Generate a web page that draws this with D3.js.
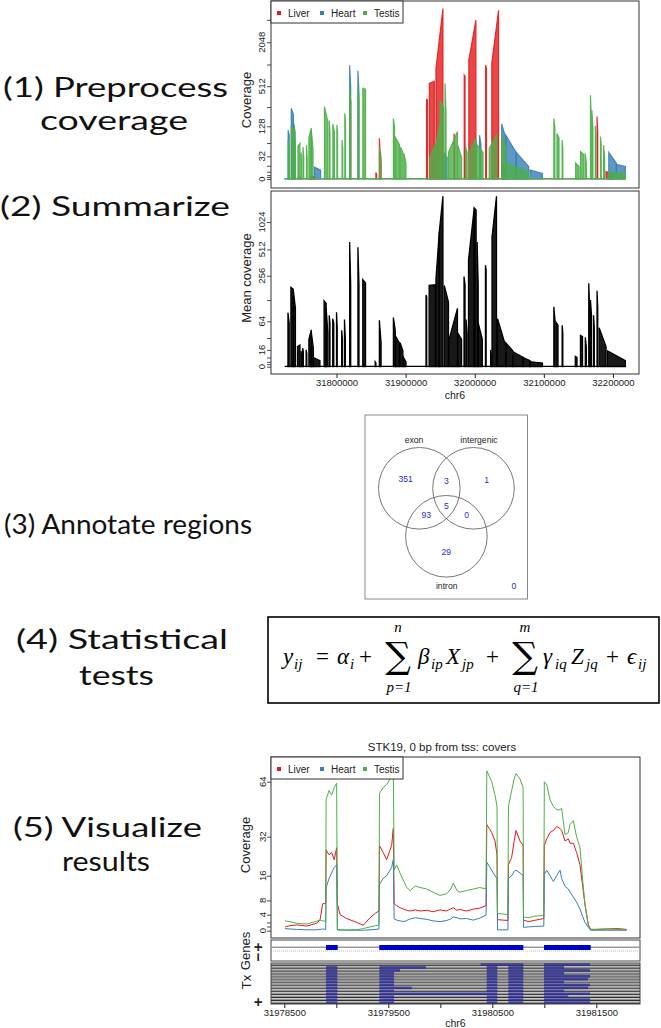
<!DOCTYPE html>
<html><head><meta charset="utf-8">
<script src="https://cdn.jsdelivr.net/npm/d3@7/dist/d3.min.js"></script>
<style>body{margin:0;background:#fff}svg{display:block;font-family:"Liberation Sans",Arial,sans-serif}</style>
</head><body>
<svg id="c" width="661" height="1028"></svg>
<script>
// ---------------- DATA ----------------
const seriesNames = ["Liver", "Heart", "Testis"];
const seriesColors = ["#E41A1C", "#377EB8", "#4DAF4A"];
const regionKb = [31724.9, 32218.0];

// coverage spikes: [startKb, endKb, valueAtStart, valueAtEnd]
const liverSpikes = [
 [31745,31747,2,2],[31762,31768,3,2],[31819.0,31820.5,500,300],[31857.0,31858.0,7,5],
 [31862.0,31863.0,79,40],[31863.5,31864.5,42,20],[31930.3,31931.5,340,320],[31934.3,31941.5,560,600],
 [31943.9,31954.0,900,5800],[31970.0,31971.0,96,60],[31984.8,31986.0,730,700],[31991.5,32001.7,1180,4060],
 [32015.8,32017.0,1000,900],[32024.7,32034.5,1070,5500],[32039.0,32044.0,20,10],[32177.0,32178.0,183,100],
 [32190.0,32200.0,8,5]
];
const heartSpikes = [
 [31730.0,31731.5,110,90],[31734.5,31737.5,244,200],[31737.5,31740.0,150,100],[31768.0,31777.0,14,10],
 [31819.0,31820.5,1000,500],[31831.0,31832.5,840,400],[31955.0,31960.0,40,30],[32007.0,32009.0,90,60],
 [32039.0,32045.0,140,80],[32045.0,32060.0,90,40],[32060.0,32078.0,40,15],[32080.0,32098.0,10,6],
 [32194.0,32205.0,40,20],[32205.0,32218.0,18,15]
];
const testisSpikes = [
 [31730.0,31731.5,73,50],[31734.5,31738.0,126,110],[31739.0,31740.5,135,60],[31744.2,31747.0,55,63],
 [31748.5,31749.5,40,30],[31751.5,31752.5,53,30],[31756.5,31757.5,58,30],[31760.0,31763.5,80,120],
 [31763.5,31766.0,110,50],[31782.5,31787.5,260,150],[31789.5,31790.5,160,100],[31794.7,31797.0,140,100],
 [31800.5,31801.5,135,100],[31808.0,31809.0,73,50],[31812.0,31813.0,206,150],[31819.0,31820.5,510,300],
 [31831.0,31832.5,510,300],[31838.0,31842.0,480,460],[31862.0,31864.0,53,30],[31882.3,31884.0,170,120],
 [31885.5,31891.0,80,60],[31892.5,31896.0,53,40],[31897.5,31900.5,38,20],[31935.0,31943.0,30,60],
 [31944.0,31950.0,60,150],[31950.0,31955.0,320,250],[31957.0,31958.5,560,200],[31962.0,31975.0,40,105],
 [31975.0,31981.0,60,30],[31987.0,31989.0,53,40],[31992.0,32002.0,40,80],[32003.0,32012.0,60,40],
 [32021.0,32032.0,50,90],[32039.0,32045.0,97,50],[32045.0,32078.0,20,8],[32114.5,32116.0,170,120],
 [32119.0,32122.0,96,80],[32126.5,32127.5,73,50],[32146.0,32151.0,20,15],[32153.0,32158.0,42,35],
 [32160.0,32161.5,38,20],[32167.5,32168.5,380,200],[32169.5,32171.0,230,120],[32174.5,32175.5,130,80],
 [32182.0,32183.0,85,60],[32186.5,32188.0,58,30],[32194.0,32218.0,8,6]
];
const meanSpikes = [
 [31729.7,31731.5,86,60],[31734.0,31737.5,185,175],[31737.5,31740.5,170,100],[31743.5,31747.0,20,22],
 [31748.5,31749.5,15,10],[31751.0,31752.0,18,14],[31756.0,31757.0,16,12],[31760.0,31763.5,30,46],
 [31763.5,31766.5,42,18],[31766.5,31776.0,8,5],[31782.0,31785.0,125,115],[31785.0,31787.5,100,40],
 [31789.5,31790.5,79,60],[31794.5,31796.0,70,60],[31800.0,31801.0,87,50],[31807.5,31808.5,45,30],
 [31811.5,31812.8,68,30],[31819.0,31820.5,620,200],[31831.0,31832.5,540,200],[31838.0,31842.0,230,210],
 [31856.0,31857.0,4,3],[31862.0,31864.5,66,25],[31882.3,31885.0,73,45],[31885.5,31891.0,35,25],
 [31892.0,31896.0,25,15],[31897.0,31900.5,8,4],[31929.5,31930.5,149,140],[31934.0,31943.0,196,200],
 [31943.9,31948.7,236,800],[31948.7,31954.0,800,1930],[31955.9,31962.0,196,120],[31963.0,31975.0,30,99],
 [31975.5,31981.0,40,30],[31984.5,31986.0,250,200],[31987.5,31989.0,68,40],[31991.0,31999.3,390,1450],
 [31999.3,32002.0,1450,1380],[32003.5,32005.0,620,200],[32005.0,32011.0,60,30],[32015.5,32016.5,340,300],
 [32023.0,32024.0,16,10],[32025.0,32031.5,700,1930],[32033.0,32045.0,70,20],[32045.0,32055.0,25,15],
 [32055.0,32070.0,14,8],[32070.0,32080.0,8,5],[32080.0,32098.0,4,3],[32114.5,32116.0,104,70],
 [32117.5,32120.5,62,55],[32126.5,32127.5,55,40],[32145.5,32148.0,9,8],[32153.0,32156.0,36,34],
 [32160.0,32161.5,33,20],[32165.0,32166.0,208,120],[32167.5,32169.0,128,79],[32172.0,32173.0,79,50],
 [32177.0,32178.0,168,100],[32180.0,32190.0,50,20],[32192.0,32218.0,15,5]
];
const cov1Ticks = [0,2,4,8,16,32,64,128,256,512,1024,2048,4096];
const cov1Labels = [0,32,128,512,2048];
const cov2Ticks = [0,2,4,8,16,32,64,128,256,512,1024];
const cov2Labels = [0,16,64,256,512,1024];
const regionTicks = [31800000,31900000,32000000,32100000,32200000];

// Venn
const vennSets = ["exon","intergenic","intron"];
const vennCounts = {exon:351, intergenic:1, intron:29, exon_intergenic:3, exon_intron:93, intergenic_intron:0, all:5, none:0};

// STK19 region
const stkPos = [
 31978507,31978555,31978619,31978715,31978811,31978843,31978869,31978898,
 31978902,31978930,31978955,31978980,31979003,
 31979010,31979036,31979100,31979196,31979260,31979324,31979380,31979410,
 31979415,31979450,31979484,31979532,31979548,
 31979556,31979580,31979612,31979650,31979677,31979709,31979760,31979805,31979869,31979930,
 31979997,31980061,31980100,31980125,31980160,31980189,31980250,31980318,31980380,31980440,
 31980447,31980470,31980494,31980526,31980545,
 31980550,31980600,31980650,
 31980655,31980686,31980710,31980728,31980766,31980796,
 31980800,31980850,31980900,31980995,
 31981000,31981023,31981055,31981087,31981119,31981151,31981167,31981199,31981231,31981247,31981279,31981310,31981343,31981370,31981391,31981423,
 31981445,31981500,31981600,31981700,31981792
];
const stkLiver = [
 0.9,1.2,1.4,1.1,1.8,2.6,7.0,7.2,
 26,24,25,22,27,
 7.0,4.0,3.0,2.0,1.3,3.2,4.5,5.0,
 28,25,22,28,36,
 7.0,6.5,5.9,5.5,5.2,5.0,5.3,5.0,5.2,4.8,
 5.3,5.0,5.6,5.9,5.2,5.4,5.0,5.5,5.8,6.5,
 38,36,34,30,24,
 2.7,2.6,2.5,
 20,23,30,35,30,28,
 2.6,2.2,2.5,3.0,
 28,31,34,35,37,36,35,30,31,29,29,25,20,12,6.7,1.5,
 0.3,0.3,0.4,0.5,0.3
];
const stkHeart = [
 0.5,0.4,0.3,0.2,0.2,0.3,0.4,0.3,
 12,15,17,19,20,
 0.3,0.2,0.1,0.1,0.1,0.2,0.3,0.4,
 13,15,16,19,22,
 2.9,2.6,2.4,2.2,2.5,2.9,3.2,3.0,2.8,2.4,
 2.2,2.5,2.9,3.4,3.2,2.9,3.0,2.6,3.1,3.9,
 21,19.5,18,16,15,
 0.2,0.2,0.2,
 15,16,17.5,18,17,16,
 0.8,0.9,1.0,1.1,
 16.5,18,16,14,16,18,15,12.4,11.5,10.5,9,7.5,5.5,3.5,2.0,0.8,
 0.1,0.1,0.1,0.1,0.1
];
const stkTestis = [
 2.4,2.2,1.8,1.6,2.3,2.6,2.4,2.3,
 52,58,55,60,63,
 0.2,0.1,0.2,0.2,0.5,0.9,1.2,1.4,
 56,60,62,68,76,
 18,20,17,14,12,11,12.5,12,11.5,10.5,
 9.5,10,11.5,13.5,11,10.5,11,11.5,12,11.5,
 72,68,64,55,48,
 4.3,4.2,4.0,
 48,58,66,70,66,60,
 3.4,3.2,3.6,3.8,
 64,62,52,48,46,46,47,33,34,38,40,32,27,14,7,1.2,
 0.3,0.3,0.4,0.3,0.2
];
const stkTicks = [0,1,2,4,8,16,32,64];
const stkLabels = [0,4,8,16,32,64];
const stkXTicks = [31978500,31979000,31979500,31980000,31980500,31981000,31981500];
const stkXLabels = [31978500,31979500,31980500,31981500];
const genes = [[31978901,31979013],[31979413,31980798],[31980997,31981446]];
const transcripts = [
 [[31980388,31980798],[31980997,31981440]],
 [[31978901,31979010],[31979414,31979862],[31980446,31980548],[31980654,31980798],[31980997,31981190]],
 [[31978901,31979010],[31979414,31979612],[31980446,31980548],[31980654,31980798],[31980997,31981440]],
 [[31978901,31979010],[31979414,31979555],[31980446,31980548],[31980654,31980798],[31980997,31981190]],
 [[31978901,31979010],[31979414,31979555],[31980446,31980548],[31980654,31980798],[31980997,31981440]],
 [[31978901,31979010],[31979414,31979555],[31980446,31980548],[31980654,31980798],[31980997,31981420]],
 [[31978901,31979010],[31979414,31979555],[31980446,31980548],[31980654,31980798],[31980997,31981190]],
 [[31978901,31979010],[31979414,31979555],[31980446,31980548],[31980654,31980798],[31980997,31981440]],
 [[31978901,31979010],[31979414,31979725],[31980446,31980548],[31980654,31980798],[31980997,31981420]],
 [[31978901,31979010],[31979414,31979555],[31980446,31980548],[31980654,31980798],[31980997,31981190]],
 [[31978901,31979010],[31979414,31979555],[31979555,31980446],[31980446,31980548],[31980654,31980798],[31980997,31981440]],
 [[31978901,31979010],[31979414,31979555],[31980446,31980548],[31980654,31980798],[31980997,31981230]],
 [[31978901,31979010],[31979414,31979555],[31980446,31980548],[31980654,31980798],[31980997,31981440]],
 [[31978901,31979010],[31979414,31979555],[31980446,31980548],[31980654,31980798],[31980997,31981440]]
];

// ---------------- DRAW ----------------
const svg = d3.select("#c");
const L = 271, R = 639;
const tf = v => Math.log2(v + 32);
const SANS = "Liberation Sans, Arial, sans-serif";

function rtext(x, y, txt, size, extra) {
  const t = svg.append("text").attr("transform", `translate(${x},${y}) rotate(-90)`)
    .attr("text-anchor", "middle").style("font-size", size + "px").style("font-family", SANS).attr("fill", "#222").text(txt);
  if (extra) extra(t);
  return t;
}
function clip(id, x, y, w, h) {
  svg.append("clipPath").attr("id", id).append("rect").attr("x", x).attr("y", y).attr("width", w).attr("height", h);
}
function txt(x, y, t, size, opts) {
  opts = opts || {};
  return svg.append("text").attr("x", x).attr("y", y).style("font-size", size + "px")
    .style("font-family", opts.family || SANS).style("font-style", opts.italic ? "italic" : "normal")
    .attr("text-anchor", opts.anchor || "start").attr("fill", opts.fill || "#222").text(t);
}

const span = (regionKb[1] - regionKb[0]) * 1000;
const xReg = d3.scaleLinear().domain([regionKb[0]*1000 - 0.04*span, regionKb[1]*1000 + 0.04*span]).range([L, R]);

function spikePts(s, ys) {
  return [[xReg(s[0]*1000), ys(tf(0))],[xReg(s[0]*1000), ys(tf(s[2]))],[xReg(s[1]*1000), ys(tf(s[3]))],[xReg(s[1]*1000), ys(tf(0))]];
}
function yAxis(ys, ticks, labels, labelX) {
  const g = svg.append("g").attr("transform", `translate(${L},0)`)
    .call(d3.axisLeft(ys).tickValues(ticks.map(tf)).tickSize(4).tickFormat(""));
  g.select(".domain").remove();
  g.selectAll("line").attr("stroke", "#222").attr("stroke-width", 0.8);
  labels.forEach(v => rtext(labelX, ys(tf(v)), String(v), 9.5));
}
const line = d3.line();

// Panel 1
const y1 = d3.scaleLinear().domain([4.604, 12.841]).range([188, 1]);
clip("cp1", L, 1, R - L, 187);
const p1 = svg.append("g").attr("clip-path", "url(#cp1)");
const allSeries = [liverSpikes, heartSpikes, testisSpikes];
allSeries.forEach((sp, i) => {
  p1.append("line").attr("x1", xReg(regionKb[0]*1000)).attr("x2", xReg(regionKb[1]*1000))
    .attr("y1", y1(tf(0.3))).attr("y2", y1(tf(0.3))).attr("stroke", seriesColors[i]).attr("stroke-width", 1.2);
  p1.selectAll(null).data(sp).enter().append("path")
    .attr("d", d => line(spikePts(d, y1)) + "Z")
    .attr("fill", seriesColors[i]).attr("fill-opacity", 0.8)
    .attr("stroke", seriesColors[i]).attr("stroke-opacity", 0.9).attr("stroke-width", 1.2);
});
svg.append("rect").attr("x", L).attr("y", 1).attr("width", R - L).attr("height", 187)
  .attr("fill", "none").attr("stroke", "#333").attr("stroke-width", 1);
yAxis(y1, cov1Ticks, cov1Labels, 265);
rtext(251, 100, "Coverage", 13);
function legend(y0) {
  svg.append("rect").attr("x", L).attr("y", y0).attr("width", 132).attr("height", 22)
    .attr("fill", "#fff").attr("stroke", "#333").attr("stroke-width", 1);
  const xs = [279, 322, 365];
  seriesNames.forEach((n, i) => {
    svg.append("rect").attr("x", xs[i] - 2).attr("y", y0 + 10).attr("width", 4).attr("height", 4).attr("fill", seriesColors[i]);
    txt(xs[i] + 9, y0 + 15.5, n, 10);
  });
}
legend(1);

// Panel 2
const y2 = d3.scaleLinear().domain([4.746, 11.122]).range([374, 191]);
clip("cp2", L, 191, R - L, 183);
const p2 = svg.append("g").attr("clip-path", "url(#cp2)");
p2.append("line").attr("x1", xReg(regionKb[0]*1000)).attr("x2", xReg(regionKb[1]*1000))
  .attr("y1", y2(tf(0.3))).attr("y2", y2(tf(0.3))).attr("stroke", "#000").attr("stroke-width", 1.2);
p2.selectAll(null).data(meanSpikes).enter().append("path")
  .attr("d", d => line(spikePts(d, y2)) + "Z")
  .attr("fill", "#000").attr("fill-opacity", 0.9).attr("stroke", "#000").attr("stroke-width", 1.3);
svg.append("rect").attr("x", L).attr("y", 191).attr("width", R - L).attr("height", 183)
  .attr("fill", "none").attr("stroke", "#333").attr("stroke-width", 1);
yAxis(y2, cov2Ticks, cov2Labels, 265);
rtext(251, 278, "Mean coverage", 13);
const xa2 = svg.append("g").attr("transform", "translate(0,374)")
  .call(d3.axisBottom(xReg).tickValues(regionTicks).tickSize(4).tickPadding(1.5).tickFormat(d3.format("d")));
xa2.select(".domain").remove();
xa2.selectAll("line").attr("stroke", "#222");
xa2.selectAll("text").style("font-size", "9.5px").style("font-family", SANS).attr("fill", "#222");
txt(455, 398.5, "chr6", 10.5, {anchor: "middle"});

// Venn
svg.append("rect").attr("x", 365).attr("y", 415).attr("width", 162.5).attr("height", 184)
  .attr("fill", "none").attr("stroke", "#888").attr("stroke-width", 1);
const circ = [[419.3,488.3],[473.5,488.3],[446.4,536.3]];
circ.forEach(c => svg.append("circle").attr("cx", c[0]).attr("cy", c[1]).attr("r", 40.8)
  .attr("fill", "none").attr("stroke", "#555").attr("stroke-width", 0.8));
const vennLabelPos = [[414,442.7],[479,442.7],[446.7,588.7]];
vennSets.forEach((s, i) => txt(vennLabelPos[i][0], vennLabelPos[i][1], s, 8.6, {anchor: "middle"}));
const vennNumPos = {exon:[405.7,482.3], exon_intergenic:[446.3,484], intergenic:[486.7,482.7], all:[446.3,508.7],
  exon_intron:[426.3,518], intergenic_intron:[466.7,518], intron:[446.3,554.7], none:[514,589]};
Object.keys(vennCounts).forEach(k => txt(vennNumPos[k][0], vennNumPos[k][1], String(vennCounts[k]), 8.6, {anchor: "middle", fill: "#2b2bd6"}));

// Equation box
svg.append("rect").attr("x", 268).attr("y", 617).attr("width", 391).attr("height", 86)
  .attr("fill", "none").attr("stroke", "#000").attr("stroke-width", 1.6);
const eqY = 664;
const SERIF = "Liberation Serif, DejaVu Serif, serif";
const eqParts = [
  [283, 0, "y", 23, true], [294, 5, "ij", 15, true],
  [316, 0, "=", 23, false],
  [337, 0, "α", 23, true], [350, 5, "i", 15, true],
  [359, 0, "+", 23, false],
  [418, 0, "β", 23, true], [431, 5, "ip", 15, true],
  [446, 0, "X", 23, true], [462, 5, "jp", 15, true],
  [486, 0, "+", 23, false],
  [543, 0, "γ", 23, true], [555, 5, "iq", 15, true],
  [571, 0, "Z", 23, true], [586, 5, "jq", 15, true],
  [606, 0, "+", 23, false],
  [627, 0, "ϵ", 23, true], [638, 5, "ij", 15, true]
];
eqParts.forEach(p => txt(p[0], eqY + p[1], p[2], p[3], {family: SERIF, italic: p[4], fill: "#000"}));
[[398, "n", "p=1"], [525, "m", "q=1"]].forEach(s => {
  txt(s[0], 668, "∑", 36, {family: "DejaVu Serif, serif", anchor: "middle", fill: "#000"});
  txt(s[0], 632, s[1], 15, {family: SERIF, italic: true, anchor: "middle", fill: "#000"});
  txt(s[0] + 1, 692, s[2], 15, {family: SERIF, italic: true, anchor: "middle", fill: "#000"});
});

// Panel 5
txt(442, 751, "STK19, 0 bp from tss: covers", 11.5, {anchor: "middle"});
const x5 = d3.scaleLinear().domain([31978372, 31981920]).range([L, 640]);
const y5 = d3.scaleLinear().domain([4.922, 6.848]).range([938, 757]);
clip("cp5", L, 757, 640 - L, 181);
const p5 = svg.append("g").attr("clip-path", "url(#cp5)");
const stkSeries = [stkLiver, stkHeart, stkTestis];
const l5 = d3.line().x(d => x5(d[0])).y(d => y5(tf(d[1])));
[0, 1, 2].forEach(i => {
  p5.append("path").attr("d", l5(stkPos.map((p, j) => [p, stkSeries[i][j]])))
    .attr("fill", "none").attr("stroke", seriesColors[i]).attr("stroke-width", 1);
});
svg.append("rect").attr("x", L).attr("y", 757).attr("width", 640 - L).attr("height", 181)
  .attr("fill", "none").attr("stroke", "#333").attr("stroke-width", 1);
const ya5 = svg.append("g").attr("transform", `translate(${L},0)`)
  .call(d3.axisLeft(y5).tickValues(stkTicks.map(tf)).tickSize(4).tickFormat(""));
ya5.select(".domain").remove();
ya5.selectAll("line").attr("stroke", "#222").attr("stroke-width", 0.8);
stkLabels.forEach(v => rtext(265.5, y5(tf(v)), String(v), 9.5));
rtext(250, 845, "Coverage", 13);
legend(757);

// Genes track
svg.append("rect").attr("x", L).attr("y", 940).attr("width", 640 - L).attr("height", 21)
  .attr("fill", "#fff").attr("stroke", "#444").attr("stroke-width", 1);
svg.append("line").attr("x1", L).attr("x2", 640).attr("y1", 947.3).attr("y2", 947.3).attr("stroke", "#9a9a9a").attr("stroke-width", 1.6);
svg.append("line").attr("x1", L).attr("x2", 640).attr("y1", 951).attr("y2", 951).attr("stroke", "#aaa").attr("stroke-width", 0.8).attr("stroke-dasharray", "1,1");
svg.selectAll(null).data(genes).enter().append("rect")
  .attr("x", d => x5(d[0])).attr("width", d => x5(d[1]) - x5(d[0])).attr("y", 945).attr("height", 5).attr("fill", "#0000cc");
rtext(250, 951, "Genes", 13);
rtext(263, 947, "+", 15, t => t.style("font-weight", "bold"));
rtext(263, 957, "−", 15, t => t.style("font-weight", "bold"));

// Tx track
const txTop = 963, txBot = 1004;
const rh = (txBot - txTop) / transcripts.length;
svg.append("rect").attr("x", L).attr("y", txTop).attr("width", 640 - L).attr("height", txBot - txTop).attr("fill", "#fff");
transcripts.forEach((tx, i) => {
  const yy = txTop + i * rh;
  svg.append("rect").attr("x", L).attr("y", yy + 0.4).attr("width", 640 - L).attr("height", rh * 0.5).attr("fill", "#999");
  svg.append("line").attr("x1", L).attr("x2", 640).attr("y1", yy + rh * 0.8).attr("y2", yy + rh * 0.8).attr("stroke", "#111").attr("stroke-width", 0.9);
  tx.forEach(e => svg.append("rect").attr("x", x5(e[0])).attr("width", x5(e[1]) - x5(e[0]))
    .attr("y", yy + 0.2).attr("height", rh * 0.9).attr("fill", "#2a2a96").attr("fill-opacity", 0.8));
});
svg.append("rect").attr("x", L).attr("y", txTop).attr("width", 640 - L).attr("height", txBot - txTop)
  .attr("fill", "none").attr("stroke", "#444").attr("stroke-width", 1);
rtext(251, 982, "Tx", 13);
rtext(263, 1002, "+", 15, t => t.style("font-weight", "bold"));
const xa5 = svg.append("g").attr("transform", `translate(0,${txBot})`)
  .call(d3.axisBottom(x5).tickValues(stkXTicks).tickSize(4).tickPadding(1.5).tickFormat(d => stkXLabels.includes(d) ? String(d) : ""));
xa5.select(".domain").remove();
xa5.selectAll("line").attr("stroke", "#222");
xa5.selectAll("text").style("font-size", "9.5px").style("font-family", SANS).attr("fill", "#222");
txt(455.5, 1026.5, "chr6", 10.5, {anchor: "middle"});

// Step labels
const steps = [
  ["(1) Preprocess", 3, 97, 225], ["coverage", 40, 130, 148], ["(2) Summarize", 0, 216, 230],
  ["(3) Annotate regions", 4, 534, 248], ["(4) Statistical", 16, 649, 212], ["tests", 79, 685, 75],
  ["(5) Visualize", 13, 837, 189], ["results", 62, 871, 88]
];
steps.forEach(s => txt(s[1], s[2], s[0], 27, {family: "Lato, Open Sans, sans-serif", fill: "#111"})
  .attr("textLength", s[3]).attr("lengthAdjust", "spacingAndGlyphs"));
</script>
</body></html>
